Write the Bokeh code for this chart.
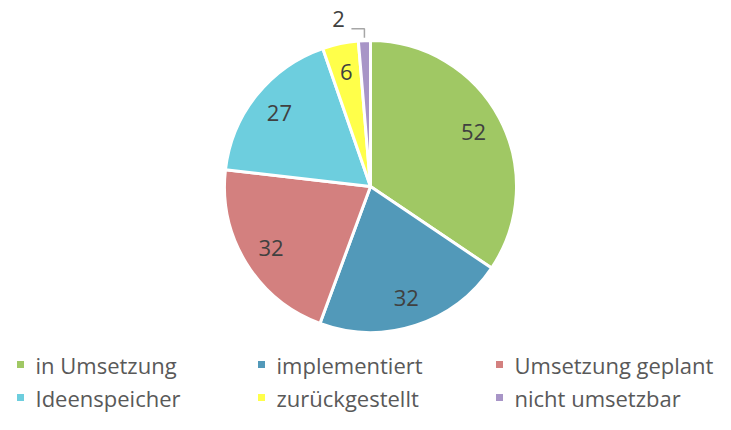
import math
from bokeh.plotting import figure
from bokeh.models import Range1d, ColumnDataSource
from bokeh.core.properties import value
from bokeh.embed import file_html
from bokeh.resources import INLINE

categories = ["in Umsetzung", "implementiert", "Umsetzung geplant",
              "Ideenspeicher", "zurückgestellt", "nicht umsetzbar"]
values = [52, 32, 32, 27, 6, 2]
colors = ["#A0C864", "#5299B9", "#D3807F", "#6DCEDE", "#FFFF4A", "#A895C7"]

FONT = "Open Sans"
W, H = 715, 414
p = figure(width=W, height=H, output_backend="svg", toolbar_location=None,
           x_range=Range1d(0, W), y_range=Range1d(0, H),
           min_border=0, outline_line_color=None)
p.axis.visible = False
p.grid.visible = False
p.background_fill_color = "white"
p.border_fill_color = "white"

def Y(yimg):
    return H - yimg

cx, cy, R = 370, Y(186), 146
total = sum(values)
starts, ends, mids = [], [], []
acc = 0
for v in values:
    a0 = math.pi / 2 - 2 * math.pi * acc / total
    acc += v
    a1 = math.pi / 2 - 2 * math.pi * acc / total
    starts.append(a0)
    ends.append(a1)
    mids.append((a0 + a1) / 2)

src = ColumnDataSource(dict(start=starts, end=ends, color=colors))
p.wedge(x=cx, y=cy, radius=R, start_angle="start", end_angle="end",
        direction="clock", fill_color="color", line_color="white",
        line_width=3, source=src)

# data labels inside
lx, ly, lt = [], [], []
for v, m in zip(values[:-1], mids[:-1]):
    r = 0.8 * R
    lx.append(cx + r * math.cos(m))
    ly.append(cy + r * math.sin(m))
    lt.append(str(v))
p.text(x=lx, y=ly, text=lt, text_align="center", text_baseline="middle",
       text_font=value(FONT), text_font_size="22px", text_color="#404040")

# small slice label outside with leader line
m = mids[-1]
ex = cx + R * math.cos(m)
ey = cy + R * math.sin(m) + 3
p.line(x=[ex, ex, ex - 13], y=[ey, ey + 9, ey + 9], line_color="#A6A6A6",
       line_width=1.5)
p.text(x=[ex - 26], y=[ey + 19], text=[str(values[-1])], text_align="center",
       text_baseline="middle", text_font=value(FONT), text_font_size="22px",
       text_color="#404040")

# legend
col_x = [20, 261, 499]
row_y = [Y(364), Y(397)]
sx, sy, tx, ty = [], [], [], []
for i, c in enumerate(categories):
    r_, c_ = divmod(i, 3)
    sx.append(col_x[c_])
    sy.append(row_y[r_])
    tx.append(col_x[c_] + 15)
    ty.append(row_y[r_])
p.rect(x=sx, y=sy, width=7, height=7, fill_color=colors, line_color=None)
p.text(x=tx, y=ty, text=categories, text_align="left", text_baseline="middle",
       text_font=value(FONT), text_font_size="22px", text_color="#595959")

open("out.html", "w").write(file_html(p, INLINE))
